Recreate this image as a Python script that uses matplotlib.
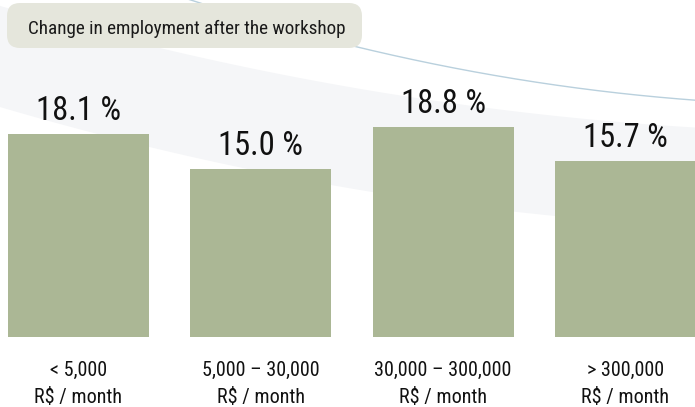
import numpy as np
import matplotlib
matplotlib.use("Agg")
import matplotlib.pyplot as plt
from matplotlib.patches import FancyBboxPatch, Polygon

# ---- data ----
categories = ["< 5,000", "5,000 – 30,000", "30,000 – 300,000", "> 300,000"]
unit_label = "R$ / month"
values = [18.1, 15.0, 18.8, 15.7]
title = "Change in employment after the workshop"

BAR_COLOR = "#abb795"
FONT = ["Roboto Condensed", "DejaVu Sans"]
plt.rcParams["font.family"] = FONT

W, H = 695, 407
fig = plt.figure(figsize=(W / 100, H / 100), dpi=100)
fig.patch.set_facecolor("white")

# ---- decorative background (pixel coordinates) ----
bg = fig.add_axes([0, 0, 1, 1], zorder=0)
bg.set_xlim(0, W)
bg.set_ylim(H, 0)
bg.axis("off")

xs = np.linspace(0, W, 200)
up_pts = np.array([(160, 47), (200, 58), (330, 85), (500, 108), (695, 128)])
lo_pts = np.array([(0, 107), (149, 147), (220, 163), (331, 185), (372, 192)])
up = np.polyval(np.polyfit(up_pts[:, 0], up_pts[:, 1], 2), xs)
lo = np.polyval(np.polyfit(lo_pts[:, 0], lo_pts[:, 1], 2), xs)
up = np.clip(up, 0, None)
band = np.vstack([np.column_stack([xs, up]), np.column_stack([xs[::-1], lo[::-1]])])
bg.add_patch(Polygon(band, closed=True, facecolor="#f5f6f8", edgecolor="none"))

ln_pts = np.array([(190, 0), (352, 45), (500, 77), (695, 100)])
lx = np.linspace(185, W, 200)
ly = np.polyval(np.polyfit(ln_pts[:, 0], ln_pts[:, 1], 2), lx)
bg.plot(lx, ly, color="#b9d0dd", lw=1.0)

# title box
box = FancyBboxPatch((7 + 13, 3 + 13), 355 - 26, 45 - 26,
                     boxstyle="round,pad=13", facecolor="#e5e6dc",
                     edgecolor="none", zorder=2)
bg.add_patch(box)
bg.text(28, 34, title, fontsize=13.8, color="#1a1a1a", va="baseline", ha="left",
        zorder=3)

# ---- bars ----
ax = fig.add_axes([0, 0, 1, 1], zorder=1)
ax.patch.set_alpha(0)
x = np.arange(len(values))
ax.bar(x, values, width=0.773, color=BAR_COLOR)
ax.set_xlim(-0.4306, 3.3818)
ax.set_ylim(-6.31, 30.13)
ax.axis("off")

for xi, v in zip(x, values):
    ax.annotate(f"{v:.1f} %", (xi, v), xytext=(0, 10), textcoords="offset points",
                ha="center", va="baseline", fontsize=23.5, color="#111111")

tr = ax.get_xaxis_transform()
for xi, c in zip(x, categories):
    ax.text(xi, (H - 376) / H, c, transform=tr, ha="center", va="baseline",
            fontsize=14.5, color="#111111")
    ax.text(xi, (H - 403) / H, unit_label, transform=tr, ha="center",
            va="baseline", fontsize=14.5, color="#111111")

fig.savefig("out.png", dpi=100)
